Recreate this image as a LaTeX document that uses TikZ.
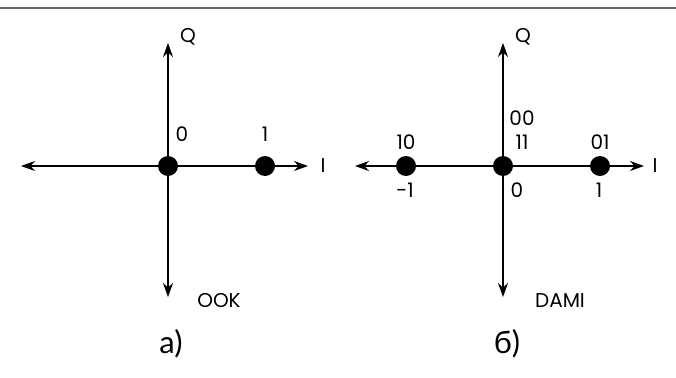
\documentclass[tikz,border=0pt]{standalone}
\usepackage{fontspec}
\setmainfont{Poppins}
\newfontfamily\cyrfont{Lato}
\usetikzlibrary{arrows.meta}

\begin{document}
\begin{tikzpicture}[x=1pt,y=-1pt,
  >={Stealth[length=14pt,width=10pt]},
  axis/.style={line width=1.3pt,->},
  dot/.style={circle,fill=black,inner sep=0pt,minimum size=20pt},
  lbl/.style={font=\fontsize{20}{21}\selectfont,inner sep=0pt},
  caption/.style={font=\cyrfont\fontsize{31}{32}\selectfont,inner sep=0pt}]
\useasboundingbox (0,0) rectangle (676,377);
\draw[gray!80!black,line width=2pt] (0,8) -- (676,8);
% a) OOK
\coordinate (aC) at (168,166);
\coordinate (aL) at (21,166);
\coordinate (aR) at (308,166);
\coordinate (aU) at (168,43);
\coordinate (aD) at (168,297);
\draw[axis] (aC) -- (aL);
\draw[axis] (aC) -- (aR);
\draw[axis] (aC) -- (aU);
\draw[axis] (aC) -- (aD);
\node[dot] (a0) at (aC) {};
\node[dot] (a1) at (265,166) {};
\node[lbl] (aQ) at (188,37) {Q};
\node[lbl] (aI) at (323,166) {I};
\node[lbl] (a0lbl) at (182,134) {0};
\node[lbl] (a1lbl) at (265,134) {1};
\node[lbl] (aname) at (219,301) {OOK};
\node[caption] (acap) at (171,344) {а)};
% b) DAMI
\coordinate (bC) at (503,166);
\coordinate (bL) at (355,166);
\coordinate (bR) at (644,166);
\coordinate (bU) at (503,43);
\coordinate (bD) at (503,297);
\draw[axis] (bC) -- (bL);
\draw[axis] (bC) -- (bR);
\draw[axis] (bC) -- (bU);
\draw[axis] (bC) -- (bD);
\node[dot] (bm) at (406,166) {};
\node[dot] (b0) at (bC) {};
\node[dot] (bp) at (600,166) {};
\node[lbl] (bQ) at (523,37) {Q};
\node[lbl] (bI) at (655,166) {I};
\node[lbl] (b10) at (406,142) {10};
\node[lbl] (b00) at (522,118) {00};
\node[lbl] (b11) at (522,142) {11};
\node[lbl] (b01) at (600,142) {01};
\node[lbl] (bm1) at (405,190) {-1};
\node[lbl] (bz) at (517,190) {0};
\node[lbl] (bp1) at (599,190) {1};
\node[lbl] (bname) at (560,301) {DAMI};
\node[caption] (bcap) at (507,344) {б)};
\end{tikzpicture}
\end{document}
